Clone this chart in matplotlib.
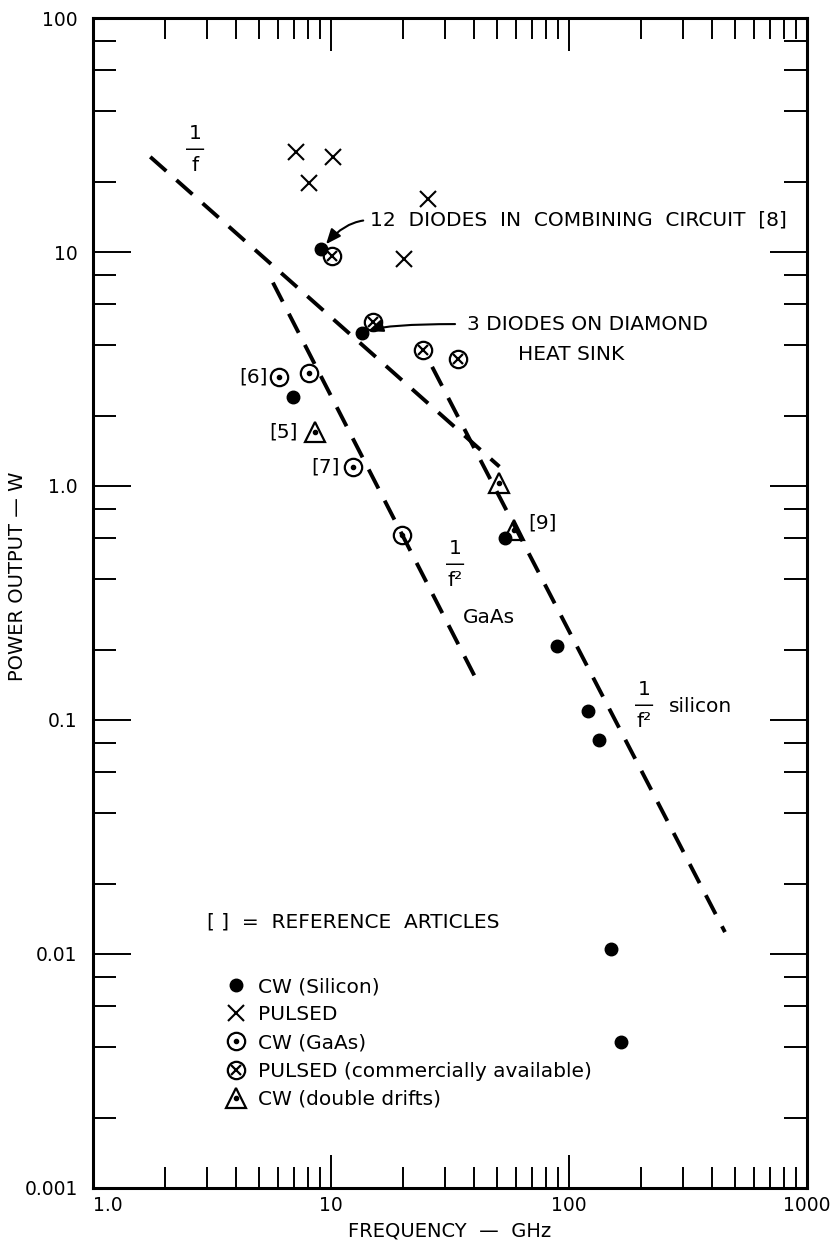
import matplotlib
matplotlib.use('Agg')
import matplotlib.pyplot as plt
from matplotlib.ticker import LogLocator, NullFormatter

plt.rcParams['font.family'] = ['DejaVu Sans']

# measured points (frequency in GHz, power in W)
cw_si_f = [9.1, 13.5, 6.9, 54, 89, 120, 134, 150, 165]
cw_si_p = [10.3, 4.5, 2.4, 0.60, 0.207, 0.109, 0.082, 0.0105, 0.0042]
pulsed_f = [7.1, 8.1, 10.2, 20.3, 25.5]
pulsed_p = [26.7, 19.7, 25.5, 9.3, 16.8]
gaas_f = [6.05, 8.1, 12.4, 19.9]
gaas_p = [2.93, 3.04, 1.20, 0.62]
comm_f = [10.1, 15.0, 24.4, 34.2]
comm_p = [9.6, 5.0, 3.81, 3.49]
dd_f = [8.6, 51, 59]
dd_p = [1.70, 1.03, 0.65]

# trend lines, end points
inv_f_f = [1.74, 51]
inv_f_p = [25.5, 1.21]
gaas_line_f = [5.7, 41.5]
gaas_line_p = [7.4, 0.144]
si_line_f = [26.6, 452]
si_line_p = [3.23, 0.0124]

x_ticks = [1, 10, 100, 1000]
x_tick_labels = ['1.0', '10', '100', '1000']
y_ticks = [0.001, 0.01, 0.1, 1, 10, 100]
y_tick_labels = ['0.001', '0.01', '0.1', '1.0', '10', '100']

legend_labels = ['CW (Silicon)', 'PULSED', 'CW (GaAs)',
                 'PULSED (commercially available)', 'CW (double drifts)']

fig = plt.figure(figsize=(8.32, 12.51), dpi=100)
ax = fig.add_axes([0.1118, 0.0504, 0.8582, 0.9352])
ax.set_xscale('log')
ax.set_yscale('log')
ax.set_xlim(1, 1000)
ax.set_ylim(0.001, 100)

# dashed trend lines
dash = dict(color='black', lw=2.8, dashes=(5.5, 3.5), zorder=1)
ax.plot(inv_f_f, inv_f_p, **dash)
ax.plot(gaas_line_f, gaas_line_p, **dash)
ax.plot(si_line_f, si_line_p, **dash)

# markers
h_si, = ax.plot(cw_si_f, cw_si_p, 'o', color='black', ms=9, ls='none', zorder=3)
h_pu, = ax.plot(pulsed_f, pulsed_p, 'x', color='black', ms=11, mew=1.5, ls='none', zorder=3)
h_ga_o, = ax.plot(gaas_f, gaas_p, 'o', mfc='none', mec='black', ms=12.5, mew=1.6, ls='none', zorder=3)
h_ga_d, = ax.plot(gaas_f, gaas_p, 'o', color='black', ms=3, ls='none', zorder=3)
h_co_o, = ax.plot(comm_f, comm_p, 'o', mfc='none', mec='black', ms=12.5, mew=1.6, ls='none', zorder=3)
h_co_x, = ax.plot(comm_f, comm_p, 'x', color='black', ms=7.5, mew=1.6, ls='none', zorder=3)
h_dd_t, = ax.plot(dd_f, dd_p, '^', mfc='none', mec='black', ms=14, mew=1.6, ls='none', zorder=3)
h_dd_d, = ax.plot(dd_f, dd_p, 'o', color='black', ms=3, ls='none', zorder=3)

# axes, ticks
for s in ax.spines.values():
    s.set_linewidth(2.2)
ax.set_xticks(x_ticks, x_tick_labels)
ax.set_yticks(y_ticks, y_tick_labels)
ax.xaxis.set_minor_locator(LogLocator(base=10, subs=range(2, 10), numticks=50))
ax.yaxis.set_minor_locator(LogLocator(base=10, subs=[2, 4, 6, 8], numticks=50))
ax.xaxis.set_minor_formatter(NullFormatter())
ax.yaxis.set_minor_formatter(NullFormatter())
ax.tick_params(which='both', direction='in', top=True, right=True, width=1.4, labelsize=13.5)
ax.tick_params(axis='x', which='major', length=24, pad=6)
ax.tick_params(axis='x', which='minor', length=15)
ax.tick_params(axis='y', which='major', length=27, pad=11)
ax.tick_params(axis='y', which='minor', length=16.5)
ax.get_xticklabels()[0].set_ha('left')

fig.text(18 / 832, 1 - 576 / 1251, 'POWER OUTPUT — W', rotation=90,
         ha='center', va='center', fontsize=14)
fig.text(450 / 832, 1 - 1231 / 1251, 'FREQUENCY  —  GHz',
         ha='center', va='center', fontsize=14)

fs = 14.5
# slope labels
ax.text(2.68, 27.3, '1\n—\nf', ha='center', va='center', fontsize=fs, linespacing=0.8)
ax.text(33.2, 0.464, '1\n—\nf²', ha='center', va='center', fontsize=fs, linespacing=0.8)
ax.text(46.1, 0.273, 'GaAs', ha='center', va='center', fontsize=fs)
ax.text(206.6, 0.115, '1\n—\nf²', ha='center', va='center', fontsize=fs, linespacing=0.8)
ax.text(263, 0.114, 'silicon', ha='left', va='center', fontsize=fs)

# call-outs
arrow = dict(arrowstyle='-|>,head_length=0.6,head_width=0.25', color='black',
             lw=1.5, mutation_scale=15, shrinkB=0)
ax.annotate('12  DIODES  IN  COMBINING  CIRCUIT  [8]', xy=(9.53, 10.8), xytext=(14.6, 13.7),
            ha='left', va='center', fontsize=fs,
            arrowprops=dict(arrow, connectionstyle='angle3,angleA=0,angleB=50',
                            relpos=(0, 0.5), shrinkA=3))
ax.text(37.3, 4.92, '3 DIODES ON DIAMOND', ha='left', va='center', fontsize=fs)
ax.text(102, 3.66, 'HEAT SINK', ha='center', va='center', fontsize=fs)
ax.annotate('', xy=(14.3, 4.59), xytext=(33.2, 4.92),
            arrowprops=dict(arrow, connectionstyle='angle3,angleA=0,angleB=20', shrinkA=0))

# reference numbers
ax.text(5.44, 2.92, '[6]', ha='right', va='center', fontsize=fs)
ax.text(7.27, 1.70, '[5]', ha='right', va='center', fontsize=fs)
ax.text(10.9, 1.20, '[7]', ha='right', va='center', fontsize=fs)
ax.text(67.3, 0.695, '[9]', ha='left', va='center', fontsize=fs)
ax.text(3.01, 0.0137, '[ ]  =  REFERENCE  ARTICLES', ha='left', va='center', fontsize=fs)

ax.legend([h_si, h_pu, (h_ga_o, h_ga_d), (h_co_o, h_co_x), (h_dd_t, h_dd_d)],
          legend_labels, loc='upper left', bbox_to_anchor=(0.186, 0.180),
          frameon=False, fontsize=fs, handlelength=1.0, handletextpad=0.6,
          labelspacing=0.45, borderpad=0, borderaxespad=0, numpoints=1)

fig.savefig('out.png', dpi=100)
